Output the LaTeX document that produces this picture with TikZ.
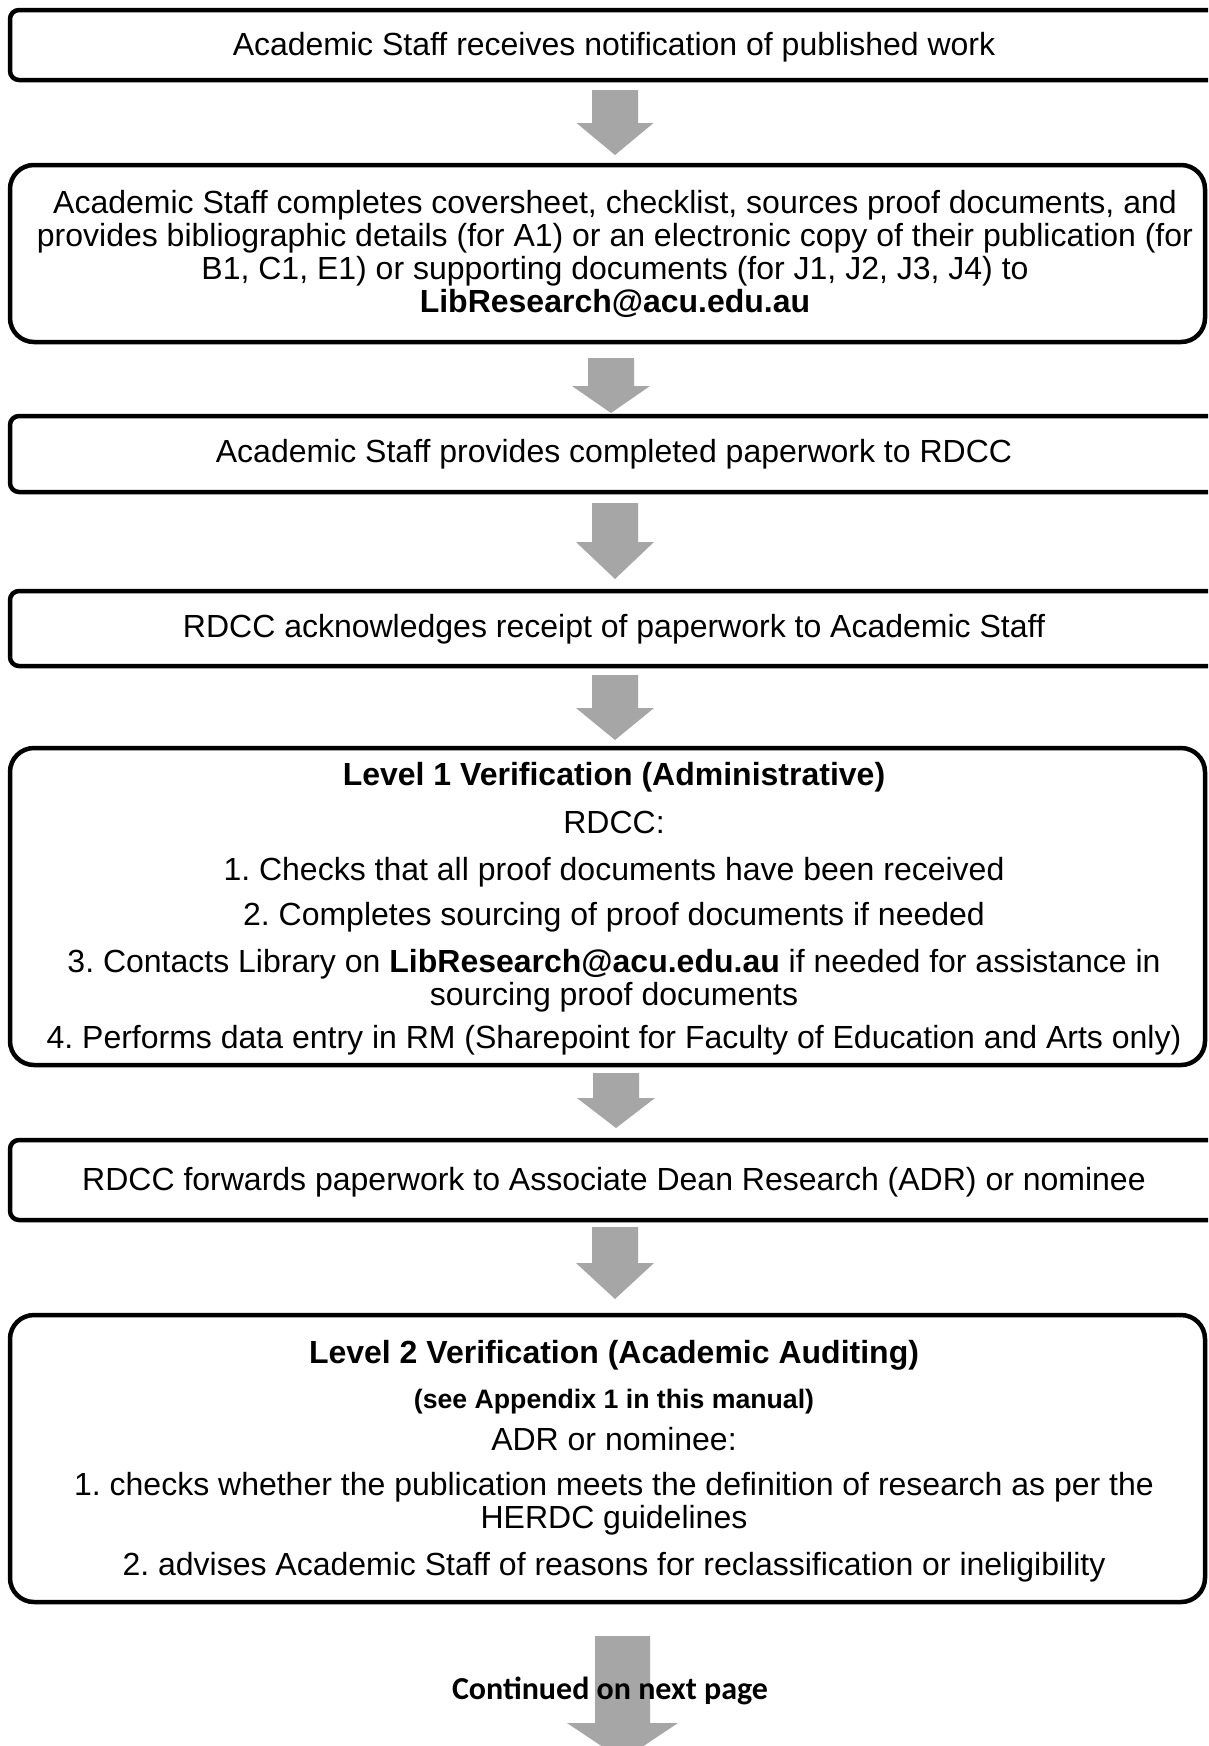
\documentclass[tikz,border=0pt]{standalone}
\usepackage{fontspec}
\setmainfont{Liberation Sans}
\newfontfamily\calibfont{Carlito}
\frenchspacing
\definecolor{arrowgray}{RGB}{166,166,166}
\tikzset{
  boxbase/.style={draw=black, line width=4.5pt, fill=white, inner sep=0pt, outer sep=0pt, anchor=north west},
  rectbox/.style={boxbase, rounded corners=9pt},
  roundbox/.style={boxbase, rounded corners=24pt},
  boxtext/.style={align=center, inner sep=0pt, font=\fontsize{32}{33}\selectfont\frenchspacing},
  garrow/.style={fill=arrowgray, draw=none}
}
\newcommand{\garrowpath}[6]{%
  \fill[garrow] ({#1-#5},#2) -- ({#1+#5},#2) -- ({#1+#5},#3) -- ({#1+#6},#3) -- (#1,#4) -- ({#1-#6},#3) -- ({#1-#5},#3) -- cycle;}
\begin{document}
\begin{tikzpicture}[x=1pt,y=-1pt]
\useasboundingbox (0,0) rectangle (1208,1746);
\clip (0,0) rectangle (1208,1746);
\fill[white] (0,0) rectangle (1208,1746);

% boxes
\node[rectbox, minimum width=1220pt, minimum height=70pt] (b1) at (10,10) {};
\node[roundbox, minimum width=1195pt, minimum height=177pt] (b2) at (10,165) {};
\node[rectbox, minimum width=1220pt, minimum height=76pt] (b3) at (10,416) {};
\node[rectbox, minimum width=1220pt, minimum height=75pt] (b4) at (10,591) {};
\node[roundbox, minimum width=1195pt, minimum height=317pt] (b5) at (10,748) {};
\node[rectbox, minimum width=1220pt, minimum height=80pt] (b6) at (10,1140) {};
\node[roundbox, minimum width=1195pt, minimum height=287pt] (b7) at (10,1315) {};

% texts
\node[boxtext] (t1) at (614,47) {Academic Staff receives notification of published work};
\node[boxtext] (t2) at (615,254) {Academic Staff completes coversheet, checklist, sources proof documents, and\\
provides bibliographic details (for A1) or an electronic copy of their publication (for\\
B1, C1, E1) or supporting documents (for J1, J2, J3, J4) to\\
\textbf{LibResearch@acu.edu.au}};
\node[boxtext] (t3) at (614,454) {Academic Staff provides completed paperwork to RDCC};
\node[boxtext] (t4) at (614,629) {RDCC acknowledges receipt of paperwork to Academic Staff};
\node[boxtext] (t5) at (614,909) {\textbf{Level 1 Verification (Administrative)}\\[15pt]
RDCC:\\[14pt]
1. Checks that all proof documents have been received\\[12pt]
2. Completes sourcing of proof documents if needed\\[14pt]
3. Contacts Library on \textbf{LibResearch@acu.edu.au} if needed for assistance in\\
sourcing proof documents\\[10pt]
4. Performs data entry in RM (Sharepoint for Faculty of Education and Arts only)};
\node[boxtext] (t6) at (614,1182) {RDCC forwards paperwork to Associate Dean Research (ADR) or nominee};
\node[boxtext] (t7) at (614,1461) {\textbf{Level 2 Verification (Academic Auditing)}\\[12pt]
{\fontsize{26.67}{28}\selectfont\bfseries (see Appendix 1 in this manual)}\\[9pt]
ADR or nominee:\\[12pt]
1. checks whether the publication meets the definition of research as per the\\
HERDC guidelines\\[14pt]
2. advises Academic Staff of reasons for reclassification or ineligibility};

% block arrows between boxes
\garrowpath{615}{90}{123}{155}{23}{38.5}
\garrowpath{611}{358}{386}{413}{23}{39}
\garrowpath{615}{503}{542}{579}{23}{39}
\garrowpath{615}{675}{708}{740}{23}{39}
\garrowpath{616}{1073}{1098}{1128}{23}{39}
\garrowpath{615}{1227}{1263}{1299}{23}{39}
\garrowpath{622.5}{1636}{1723}{1760}{27.5}{55.5}

\node[inner sep=0pt, anchor=base, font=\calibfont\bfseries\fontsize{32}{34}\selectfont] (cont) at (610,1699) {Continued on next page};
\end{tikzpicture}
\end{document}
